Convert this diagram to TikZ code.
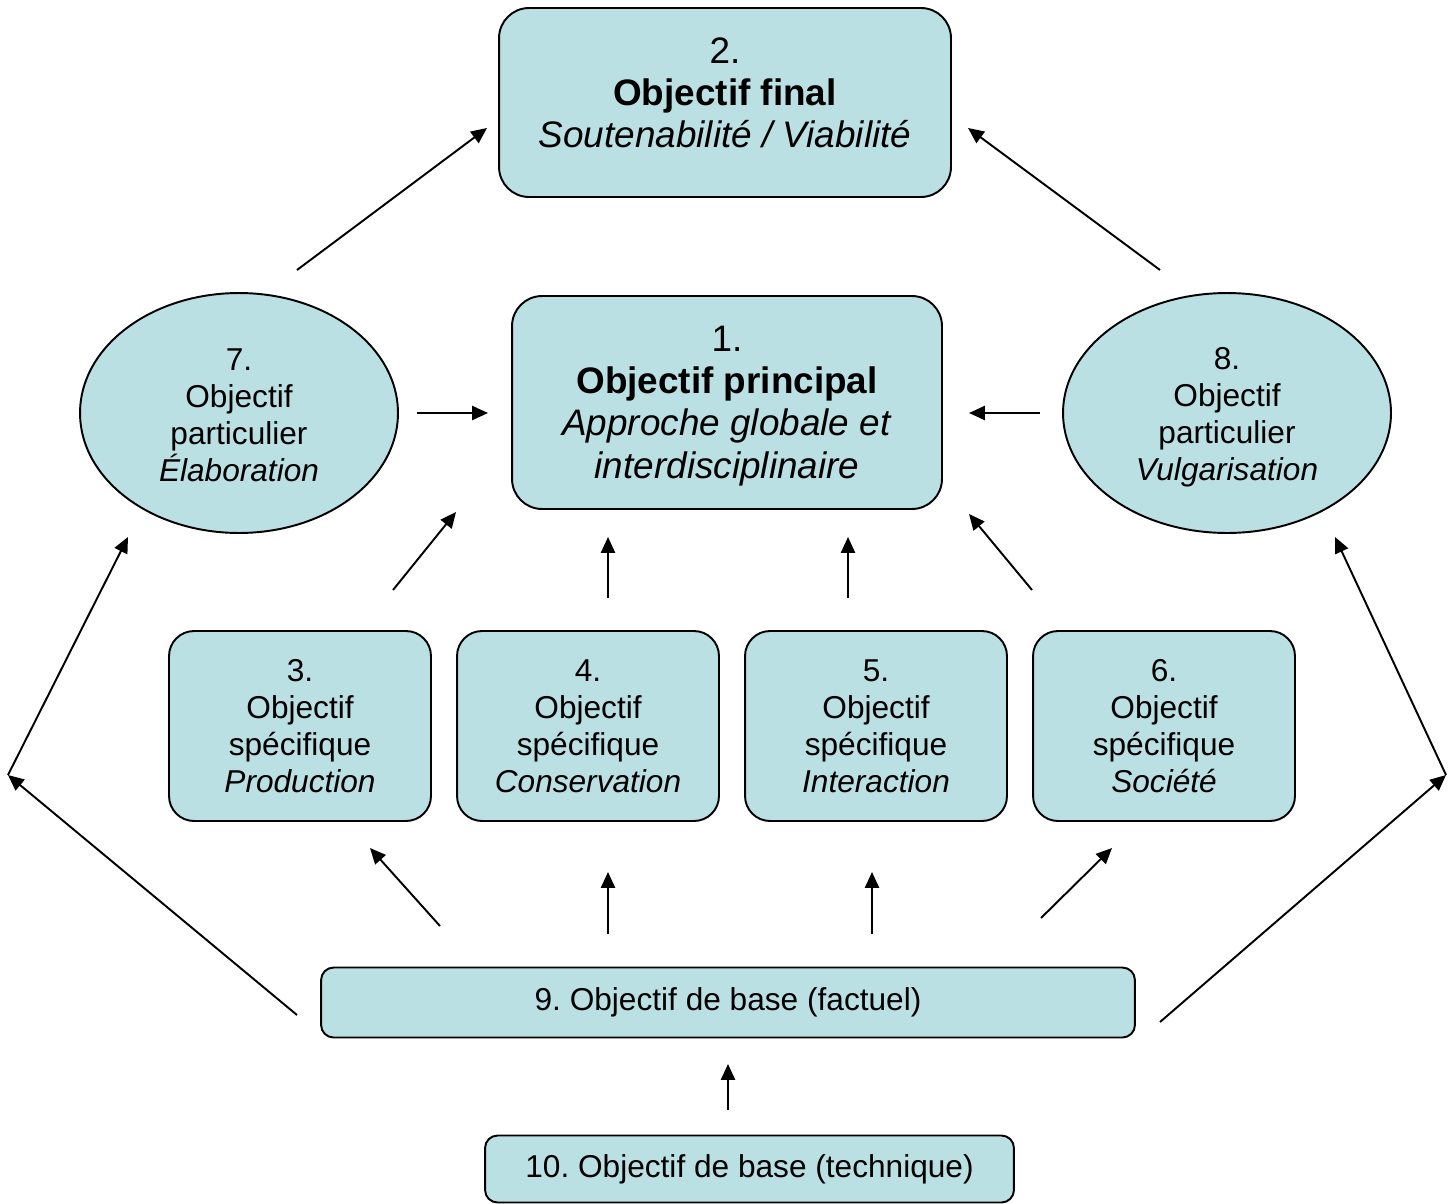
\documentclass[tikz,border=0pt]{standalone}
\usepackage{fontspec}
\setmainfont{Liberation Sans}
\usetikzlibrary{shapes.geometric,arrows.meta}
\definecolor{boxfill}{HTML}{BBE0E3}
\frenchspacing
\begin{document}
\begin{tikzpicture}[x=0.02cm,y=-0.02cm,
  shapebox/.style={draw=black,line width=1.1pt,fill=boxfill,rectangle,inner sep=0pt},
  bigtxt/.style={font=\fontsize{21}{24}\selectfont,align=center,inner sep=0pt},
  smalltxt/.style={font=\fontsize{18}{21}\selectfont,align=center,inner sep=0pt},
  oval/.style={draw=black,line width=1.1pt,fill=boxfill,ellipse,inner sep=0pt,minimum height=4.8cm},
  arr/.style={line width=1.1pt,-{Triangle[length=9pt,width=8pt]}}]
\useasboundingbox (0,0) rectangle (1452,1203);
% top box 2
\node[shapebox,rounded corners=0.6cm,minimum width=9.04cm,minimum height=3.78cm] (n2) at (725,102.5) {};
\node[bigtxt] (t2) at (725,93) {2.\\\textbf{Objectif final}\\\textit{Soutenabilité / Viabilité}};
% box 1
\node[shapebox,rounded corners=0.6cm,minimum width=8.6cm,minimum height=4.26cm] (n1) at (727,402.5) {};
\node[bigtxt] (t1) at (727,406) {1.\\\textbf{Objectif principal}\\\textit{Approche globale et}\\\textit{interdisciplinaire}};
% ellipses
\node[oval,minimum width=6.36cm] (n7) at (239,413) {};
\node[smalltxt] (t7) at (239,415) {7.\\Objectif\\particulier\\\textit{Élaboration}};
\node[oval,minimum width=6.56cm] (n8) at (1227,413) {};
\node[smalltxt] (t8) at (1227,417.5) {8.\\Objectif\\particulier\\\textit{Vulgarisation}};
% specific boxes
\tikzset{specbox/.style={shapebox,rounded corners=0.5cm,minimum width=5.24cm,minimum height=3.8cm,smalltxt}}
\node[specbox] (n3) at (300,726) {3.\\Objectif\\spécifique\\\textit{Production}};
\node[specbox] (n4) at (588,726) {4.\\Objectif\\spécifique\\\textit{Conservation}};
\node[specbox] (n5) at (876,726) {5.\\Objectif\\spécifique\\\textit{Interaction}};
\node[specbox] (n6) at (1164,726) {6.\\Objectif\\spécifique\\\textit{Société}};
% base boxes
\node[shapebox,rounded corners=0.25cm,minimum width=16.28cm,minimum height=1.4cm,smalltxt] (n9) at (728,1002.5) {9. Objectif de base (factuel)};
\node[shapebox,rounded corners=0.25cm,minimum width=10.58cm,minimum height=1.34cm,smalltxt] (n10) at (749.5,1169) {10. Objectif de base (technique)};
% arrow end points
\coordinate (a1s) at (297,270);  \coordinate (a1e) at (487,128);
\coordinate (a2s) at (1160,270); \coordinate (a2e) at (968,128);
\coordinate (a3s) at (417,413);  \coordinate (a3e) at (488,413);
\coordinate (a4s) at (1040,413); \coordinate (a4e) at (969,413);
\coordinate (a5s) at (393,590);  \coordinate (a5e) at (456,512);
\coordinate (a6s) at (608,598);  \coordinate (a6e) at (608,537);
\coordinate (a7s) at (848,598);  \coordinate (a7e) at (848,537);
\coordinate (a8s) at (1032,590); \coordinate (a8e) at (969,514);
\coordinate (b1s) at (440,926);  \coordinate (b1e) at (370,848);
\coordinate (b2s) at (608,934);  \coordinate (b2e) at (608,872);
\coordinate (b3s) at (872,934);  \coordinate (b3e) at (872,872);
\coordinate (b4s) at (1041,918); \coordinate (b4e) at (1112,848);
\coordinate (lc1) at (297,1015); \coordinate (lc2) at (8,775); \coordinate (lc3) at (128,537);
\coordinate (rc1) at (1160,1022); \coordinate (rc2) at (1446,775); \coordinate (rc3) at (1335,537);
\coordinate (c1s) at (728,1110); \coordinate (c1e) at (728,1064);
\foreach \s/\e in {a1s/a1e,a2s/a2e,a3s/a3e,a4s/a4e,a5s/a5e,a6s/a6e,a7s/a7e,a8s/a8e,
  b1s/b1e,b2s/b2e,b3s/b3e,b4s/b4e,lc1/lc2,lc2/lc3,rc1/rc2,rc2/rc3,c1s/c1e}
  \draw[arr] (\s) -- (\e);
\end{tikzpicture}
\end{document}
